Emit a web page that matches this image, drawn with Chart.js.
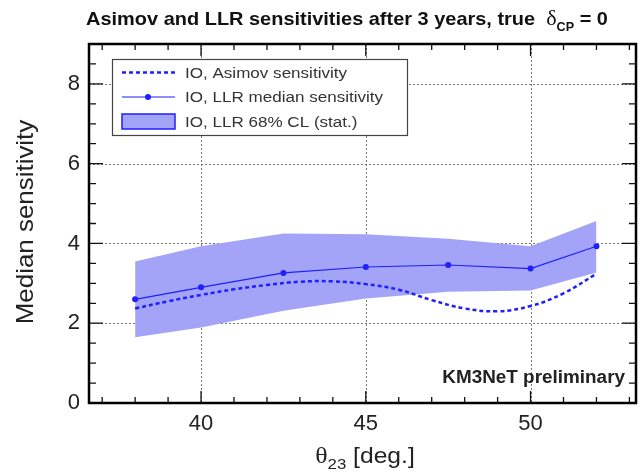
<!DOCTYPE html>
<html><head><meta charset="utf-8">
<script src="https://cdn.jsdelivr.net/npm/chart.js@4/dist/chart.umd.min.js"></script>
<style>html,body{margin:0;padding:0;background:#fff}</style>
</head><body>
<canvas id="c" width="640" height="472"></canvas>
<script>
// ---- data ----
const theta = [38, 40, 42.5, 45, 47.5, 50, 52];
const llrMedian = [2.60, 2.90, 3.26, 3.41, 3.46, 3.37, 3.93];
const llrUpper = [3.55, 3.93, 4.25, 4.23, 4.12, 3.93, 4.56];
const llrLower = [1.65, 1.89, 2.31, 2.62, 2.79, 2.82, 3.27];
const asimovTheta = [38, 39, 40, 41, 42, 43, 44, 45, 46, 47, 48, 49, 50, 51, 52];
const asimovSens = [2.37, 2.55, 2.71, 2.85, 2.96, 3.04, 3.05, 2.98, 2.84, 2.58, 2.37, 2.30, 2.43, 2.75, 3.24];
const xMajorTicks = [40, 45, 50];
const yMajorTicks = [0, 2, 4, 6, 8];
const legendLabels = ['IO, Asimov sensitivity', 'IO, LLR median sensitivity', 'IO, LLR 68% CL (stat.)'];

const BLUE = '#1f1fff';
const BAND = '#a3a3f7';
const SANS = '"Liberation Sans", Arial, sans-serif';
const SERIF = '"Liberation Serif", "DejaVu Serif", serif';
const SX = 1.12; // horizontal stretch of the reference lettering

const pts = (xs, ys) => xs.map((x, i) => ({x: x, y: ys[i]}));

// draw a sequence of [text, font, dy] runs, stretched horizontally, aligned by cx (center) or rx (right)
function runs(ctx, parts, x, y, align, sx) {
  ctx.save();
  let total = 0;
  parts.forEach(p => { ctx.font = p[1]; p.w = ctx.measureText(p[0]).width; total += p.w; });
  ctx.translate(x, y);
  ctx.scale(sx, 1);
  let cx = align === 'center' ? -total / 2 : (align === 'right' ? -total : 0);
  ctx.textAlign = 'left';
  parts.forEach(p => { ctx.font = p[1]; ctx.fillText(p[0], cx, p[2] || 0); cx += p.w; });
  ctx.restore();
}

const decor = {
  id: 'decor',
  beforeDatasetsDraw(chart) {
    const {ctx, chartArea: a, scales: {x, y}} = chart;
    ctx.save();
    ctx.strokeStyle = '#777';
    ctx.lineWidth = 1;
    ctx.setLineDash([2, 2]);
    xMajorTicks.forEach(v => {
      const px = Math.round(x.getPixelForValue(v)) + 0.5;
      ctx.beginPath(); ctx.moveTo(px, a.top); ctx.lineTo(px, a.bottom); ctx.stroke();
    });
    yMajorTicks.forEach(v => {
      if (v === 0) return;
      const py = Math.round(y.getPixelForValue(v)) + 0.5;
      ctx.beginPath(); ctx.moveTo(a.left, py); ctx.lineTo(a.right, py); ctx.stroke();
    });
    ctx.restore();
  },
  afterDraw(chart) {
    const {ctx, chartArea: a, scales: {x, y}} = chart;
    ctx.save();
    // ticks (inside)
    ctx.strokeStyle = '#111';
    ctx.lineWidth = 1.3;
    for (let v = Math.ceil(x.min); v <= x.max; v += 1) {
      const px = x.getPixelForValue(v);
      const L = xMajorTicks.includes(v) ? 12 : 6;
      ctx.beginPath();
      ctx.moveTo(px, a.bottom); ctx.lineTo(px, a.bottom - L);
      ctx.moveTo(px, a.top); ctx.lineTo(px, a.top + L);
      ctx.stroke();
    }
    for (let v = 0.5; v <= y.max; v += 0.5) {
      const py = y.getPixelForValue(v);
      const L = (v % 2 === 0) ? 14 : 7;
      ctx.beginPath();
      ctx.moveTo(a.left, py); ctx.lineTo(a.left + L, py);
      ctx.moveTo(a.right, py); ctx.lineTo(a.right - L, py);
      ctx.stroke();
    }
    // frame
    ctx.lineWidth = 2.5;
    ctx.strokeStyle = '#000';
    ctx.strokeRect(a.left, a.top, a.right - a.left, a.bottom - a.top);

    ctx.textBaseline = 'alphabetic';
    // title
    ctx.fillStyle = '#111';
    runs(ctx, [
      ['Asimov and LLR sensitivities after 3 years, true  ', 'bold 19px ' + SANS, 0],
      ['δ', '21px ' + SERIF, 0],
      ['CP', 'bold 12px ' + SANS, 6],
      [' = 0', 'bold 19px ' + SANS, 0]
    ], 347, 25, 'center', 1.05);

    // x axis title
    ctx.fillStyle = '#222';
    runs(ctx, [
      ['θ', '23px ' + SERIF, 0],
      ['23', '15px ' + SANS, 6],
      [' [deg.]', '22px ' + SANS, 0]
    ], 365, 463, 'center', SX);

    // y axis title
    ctx.save();
    ctx.translate(33, 222);
    ctx.rotate(-Math.PI / 2);
    runs(ctx, [['Median sensitivity', '24px ' + SANS, 0]], 0, 0, 'center', 1.08);
    ctx.restore();

    // KM3NeT preliminary
    ctx.fillStyle = '#222';
    runs(ctx, [['KM3NeT preliminary', 'bold 18px ' + SANS, 0]], 625, 383, 'right', 1.05);

    // legend
    const bx = 112.5, by = 59.5, bw = 295, bh = 76;
    ctx.fillStyle = '#fff';
    ctx.fillRect(bx, by, bw, bh);
    ctx.lineWidth = 1.2;
    ctx.strokeStyle = '#444';
    ctx.strokeRect(bx, by, bw, bh);
    const rows = [72.5, 97, 121.5];
    ctx.fillStyle = '#333';
    ctx.textBaseline = 'middle';
    legendLabels.forEach((t, i) => runs(ctx, [[t, '15.5px ' + SANS, 0]], 185, rows[i] + 1, 'left', 1.1));
    ctx.strokeStyle = BLUE;
    ctx.lineWidth = 2.5;
    ctx.setLineDash([4, 3]);
    ctx.beginPath(); ctx.moveTo(122, rows[0]); ctx.lineTo(175, rows[0]); ctx.stroke();
    ctx.setLineDash([]);
    ctx.lineWidth = 1.2;
    ctx.beginPath(); ctx.moveTo(122, rows[1]); ctx.lineTo(175, rows[1]); ctx.stroke();
    ctx.fillStyle = BLUE;
    ctx.beginPath(); ctx.arc(148, rows[1], 3, 0, Math.PI * 2); ctx.fill();
    ctx.fillStyle = BAND;
    ctx.fillRect(122, rows[2] - 7.5, 53, 15);
    ctx.lineWidth = 1.5;
    ctx.strokeRect(122, rows[2] - 7.5, 53, 15);
    ctx.restore();
  }
};

new Chart(document.getElementById('c'), {
  type: 'line',
  data: {
    datasets: [
      {label: legendLabels[1], data: pts(theta, llrMedian), borderColor: BLUE, backgroundColor: BLUE,
       borderWidth: 1.2, pointRadius: 3, pointBorderWidth: 0, tension: 0, fill: false, order: 0},
      {label: legendLabels[0], data: pts(asimovTheta, asimovSens), borderColor: BLUE, borderWidth: 2.5,
       borderDash: [4, 3], pointRadius: 0, tension: 0.4, fill: false, order: 1},
      {label: legendLabels[2], data: pts(theta, llrUpper), borderWidth: 0, borderColor: 'rgba(0,0,0,0)',
       backgroundColor: BAND, pointRadius: 0, tension: 0, fill: '+1', order: 2},
      {label: 'lower', data: pts(theta, llrLower), borderWidth: 0, borderColor: 'rgba(0,0,0,0)',
       pointRadius: 0, tension: 0, fill: false, order: 3}
    ]
  },
  options: {
    responsive: false,
    animation: false,
    devicePixelRatio: 1,
    layout: {padding: {top: 44, right: 3, left: 0, bottom: 0}},
    plugins: {legend: {display: false}, tooltip: {enabled: false}, title: {display: false}},
    scales: {
      x: {
        type: 'linear', min: 36.6, max: 53.2,
        afterBuildTicks: s => { s.ticks = xMajorTicks.map(v => ({value: v})); },
        afterFit: s => { s.height = 69; },
        grid: {display: false, drawTicks: false},
        border: {display: false},
        ticks: {font: {family: SANS, size: 22}, color: '#222', padding: 8, maxRotation: 0}
      },
      y: {
        min: 0, max: 9.0,
        afterBuildTicks: s => { s.ticks = yMajorTicks.map(v => ({value: v})); },
        afterFit: s => { s.width = 89; },
        grid: {display: false, drawTicks: false},
        border: {display: false},
        ticks: {font: {family: SANS, size: 22}, color: '#222', padding: 9}
      }
    }
  },
  plugins: [decor]
});
</script>
</body></html>
